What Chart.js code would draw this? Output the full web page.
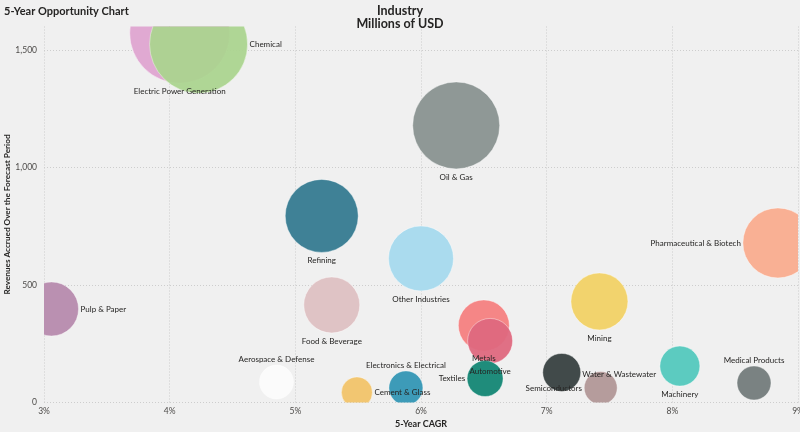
<!DOCTYPE html>
<html>
<head>
<meta charset="utf-8">
<script src="https://cdn.jsdelivr.net/npm/chart.js@4.4.0/dist/chart.umd.min.js"></script>
<style>
  html, body { margin: 0; padding: 0; background: #f0f0f0; }
  #wrap { position: relative; width: 800px; height: 432px; }
</style>
</head>
<body>
<div id="wrap"><canvas id="myChart" width="800" height="432"></canvas></div>
<script>
// DATA
const industries = [
  "Pulp & Paper", "Electric Power Generation", "Chemical", "Oil & Gas", "Refining",
  "Other Industries", "Food & Beverage", "Pharmaceutical & Biotech", "Mining",
  "Aerospace & Defense", "Electronics & Electrical", "Cement & Glass", "Metals",
  "Automotive", "Textiles", "Semiconductors", "Water & Wastewater", "Machinery",
  "Medical Products"
];
const cagr = [3.06, 4.08, 4.23, 6.28, 5.21, 6.0, 5.29, 8.84, 7.42, 4.85, 5.88, 5.49, 6.5, 6.55, 6.51, 7.12, 7.43, 8.06, 8.65];
const revenue = [398, 1572, 1525, 1179, 794, 613, 415, 679, 430, 87, 62, 43, 328, 262, 102, 128, 62, 155, 83];
const bubbleSize = [27, 50, 49, 43.5, 36.5, 32.5, 28, 35, 28.5, 17, 17, 15.5, 25.5, 22.5, 18, 19, 16.5, 20, 17];

const xTicks = [3, 4, 5, 6, 7, 8, 9];
const yTicks = [0, 500, 1000, 1500];

// colours + where each label goes
const colors = [
  "#ba90b1", "#e0a9d2", "rgba(170,212,142,0.93)", "#8f9896", "#3f8196",
  "#aadbee", "#dfc3c5", "#f9b094", "#f2d36d",
  "#fbfbfb", "#3d9bb8", "#f2c671", "#f58686",
  "rgba(222,104,126,0.95)", "#1f8c7b", "#414a4a", "#b59c9c", "#5ccbc0",
  "#7a8282"
];
const labelPos = [
  "right", "below", "right", "below", "below",
  "below", "below", "left", "below",
  "above", "above", "right", "below",
  "below", "left", "semis", "water", "below",
  "above"
];

const points = industries.map((name, i) => ({ x: cagr[i], y: revenue[i], r: bubbleSize[i] }));

const titlePlugin = {
  id: "titles",
  afterDraw(chart) {
    const c = chart.ctx;
    c.save();
    c.fillStyle = "#252423";
    c.textBaseline = "middle";
    c.font = "bold 11px Lato";
    c.textAlign = "left";
    c.fillText("5-Year Opportunity Chart", 4, 11);
    c.font = "bold 12.5px Lato";
    c.textAlign = "center";
    c.fillText("Industry", 400, 11);
    c.fillText("Millions of USD", 400, 24);
    c.restore();
  }
};

const bubbleLabels = {
  id: "bubbleLabels",
  afterDatasetsDraw(chart) {
    const c = chart.ctx;
    const meta = chart.getDatasetMeta(0);
    c.save();
    c.font = "8px Lato";
    c.fillStyle = "#252423";
    c.textBaseline = "middle";
    meta.data.forEach((el, i) => {
      const r = bubbleSize[i];
      let x = el.x, y = el.y;
      c.textAlign = "center";
      if (labelPos[i] === "below") y = el.y + r + 8;
      else if (labelPos[i] === "above") y = el.y - r - 6;
      else if (labelPos[i] === "right") { x = el.x + r + 2; c.textAlign = "left"; }
      else if (labelPos[i] === "left") { x = el.x - r - 2; c.textAlign = "right"; }
      else if (labelPos[i] === "semis") { x = el.x - 8; y = el.y + 16.5; }
      else if (labelPos[i] === "water") { x = el.x + 18.5; y = el.y - 14; }
      c.fillText(industries[i], x, y);
    });
    c.restore();
  }
};

Chart.defaults.font.family = "Lato, sans-serif";

const ctx = document.getElementById("myChart");
const myChart = new Chart(ctx, {
  type: "bubble",
  data: {
    datasets: [{
      data: points,
      backgroundColor: colors,
      borderColor: "rgba(255,255,255,0.4)",
      borderWidth: 1,
      clip: 0
    }]
  },
  options: {
    responsive: false,
    animation: false,
    events: [],
    layout: { autoPadding: false, padding: { left: 0, right: 2, top: 26.5, bottom: 0 } },
    plugins: {
      legend: { display: false },
      tooltip: { enabled: false }
    },
    scales: {
      x: {
        type: "linear",
        min: 3,
        max: 9,
        afterBuildTicks: scale => { scale.ticks = xTicks.map(v => ({ value: v })); },
        afterFit: scale => { scale.height = 29.5; scale.paddingLeft = 0; scale.paddingRight = 0; },
        border: { display: false, dash: [1, 2] },
        grid: { color: "#cdcdcd", drawTicks: false },
        ticks: { padding: 4, color: "#4d4b49", font: { size: 8.5 }, maxRotation: 0, callback: v => v + "%" },
        title: { display: true, text: "5-Year CAGR", color: "#252423", font: { size: 9, weight: "bold" }, padding: { top: 0, bottom: 2.5 } }
      },
      y: {
        min: 0,
        max: 1600,
        afterBuildTicks: scale => { scale.ticks = yTicks.map(v => ({ value: v })); },
        afterFit: scale => { scale.width = 44; scale.paddingTop = 0; scale.paddingBottom = 0; },
        border: { display: false, dash: [1, 2] },
        grid: { color: "#cdcdcd", drawTicks: false },
        ticks: { padding: 7, color: "#4d4b49", font: { size: 8.5 } },
        title: { display: true, text: "Revenues Accrued Over the Forecast Period", color: "#252423", font: { size: 8.2, weight: "bold" }, padding: { top: 2, bottom: 0 } }
      }
    }
  },
  plugins: [titlePlugin, bubbleLabels]
});
</script>
</body>
</html>
